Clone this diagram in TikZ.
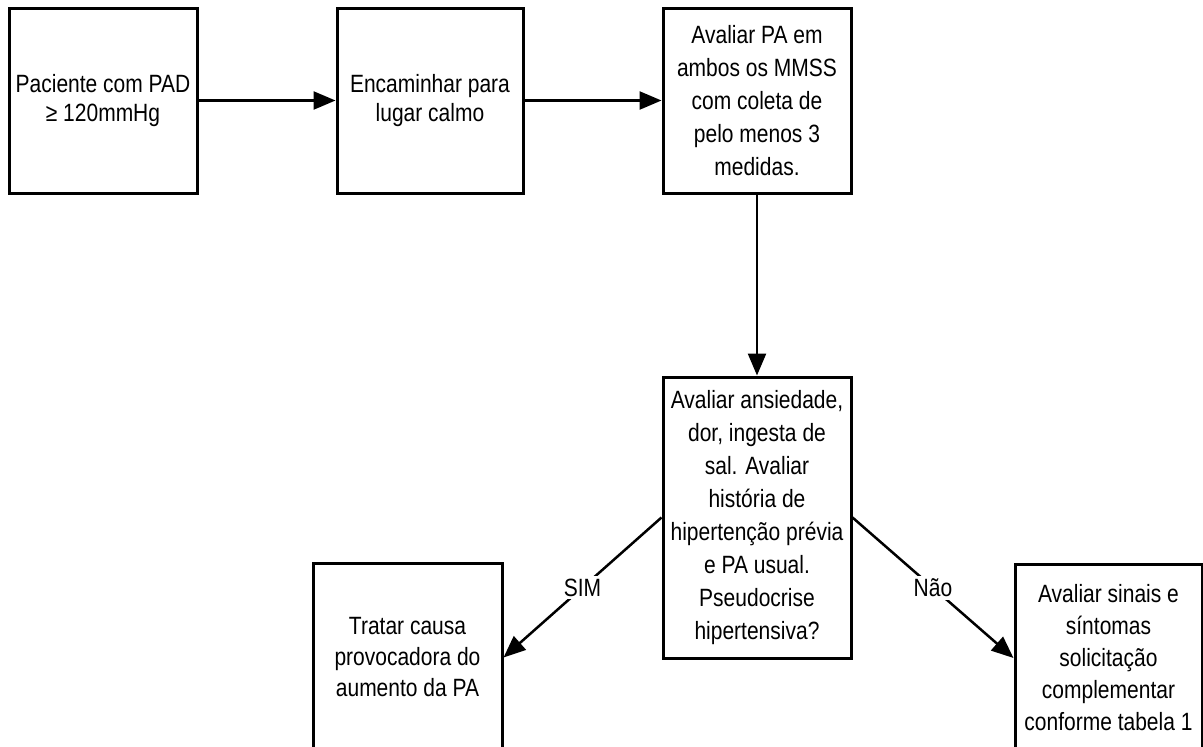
\documentclass[tikz,border=0pt]{standalone}
\usepackage{fontspec}
\setmainfont{Liberation Sans}[FakeStretch=0.84]
\usetikzlibrary{arrows.meta}
\begin{document}
\begin{tikzpicture}[x=1pt,y=-1pt,
  box/.style={draw=black, line width=3pt, fill=white, inner sep=0pt,
    align=center, text=black, font=\fontsize{25}{33}\selectfont},
  flow/.style={line width=2.5pt, -{Triangle[length=22pt,width=18pt]}},
  tag/.style={fill=white, inner sep=3pt, text=black, font=\fontsize{25}{28}\selectfont}]
\useasboundingbox (0,0) rectangle (1203,747);
\clip (0,0) rectangle (1203,747);

% top row
\node[box, minimum width=188pt, minimum height=185pt,
      font=\fontsize{25}{29}\selectfont] (pad) at (103,100.5)
  {Paciente com PAD\\≥ 120mmHg};
\node[box, minimum width=186pt, minimum height=185pt,
      font=\fontsize{25}{29}\selectfont] (calmo) at (430,100.5)
  {Encaminhar para\\lugar calmo};
\node[box, minimum width=188pt, minimum height=185pt] (medir) at (757,100.5)
  {Avaliar PA em\\ambos os MMSS\\com coleta de\\pelo menos 3\\medidas.};

% decision
\node[box, minimum width=188pt, minimum height=281pt] (pseudo) at (757,517.5)
  {Avaliar ansiedade,\\dor, ingesta de\\sal. Avaliar\\história de\\hipertenção prévia\\e PA usual.\\Pseudocrise\\hipertensiva?};

% outcomes
\node[box, minimum width=189pt, minimum height=189pt,
      font=\fontsize{25}{31}\selectfont] (tratar) at (407.5,657.5)
  {Tratar causa\\provocadora do\\aumento da PA};
\node[box, minimum width=187pt, minimum height=188pt,
      font=\fontsize{25}{32}\selectfont] (sinais) at (1108.5,658)
  {Avaliar sinais e\\síntomas\\solicitação\\complementar\\conforme tabela 1};

% connectors
\draw[flow] (pad.east) -- (calmo.west);
\draw[flow] (calmo.east) -- (medir.west);
\draw[flow] (medir.south) -- (pseudo.north);
\draw[flow] (pseudo.west) -- node[tag] (sim) {SIM} (tratar.east);
\draw[flow] (pseudo.east) -- node[tag] (nao) {Não} (sinais.west);
\end{tikzpicture}
\end{document}
